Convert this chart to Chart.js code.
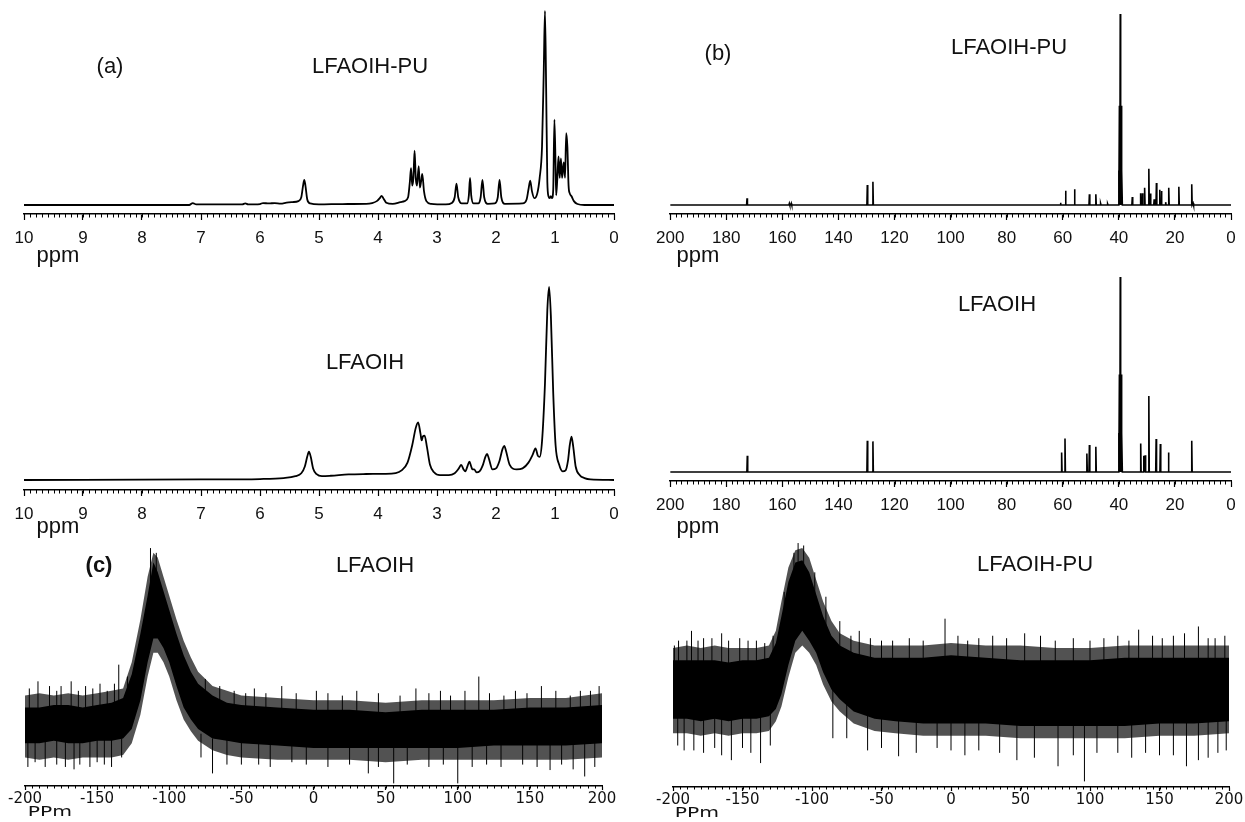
<!DOCTYPE html>
<html>
<head>
<meta charset="utf-8">
<script src="https://cdn.jsdelivr.net/npm/chart.js@4.4.1/dist/chart.umd.min.js"></script>
<style>
  html, body { margin: 0; padding: 0; background: #fff; }
  body { position: relative; width: 1245px; height: 820px; font-family: 'Liberation Sans', Arial, sans-serif; }
  .panel { position: absolute; }
  .lbl { position: absolute; transform: translate(-50%, -50%); white-space: nowrap; color: #111; line-height: 1; font-size: 22px; z-index: 2; }
  .ppm { font-size: 22px; }
  .ppm29 { font-family: 'DejaVu Sans', sans-serif; font-size: 14px; transform: translate(-50%, -50%) scaleX(1.45); }
</style>
</head>
<body>
<div class="panel" style="left:4px;top:0px;"><canvas id="h1pu" width="630" height="248"></canvas></div>
<div class="panel" style="left:4px;top:276px;"><canvas id="h1" width="630" height="248"></canvas></div>
<div class="panel" style="left:648px;top:0px;"><canvas id="c13pu" width="597" height="248"></canvas></div>
<div class="panel" style="left:648px;top:266px;"><canvas id="c13" width="597" height="249"></canvas></div>
<div class="panel" style="left:0px;top:536px;"><canvas id="si" width="630" height="276"></canvas></div>
<div class="panel" style="left:645px;top:531px;"><canvas id="sipu" width="600" height="282"></canvas></div>

<div class="lbl" style="left:110px;top:66px;">(a)</div>
<div class="lbl" style="left:370px;top:66px;">LFAOIH-PU</div>
<div class="lbl ppm" style="left:58px;top:255px;">ppm</div>
<div class="lbl" style="left:365px;top:362px;">LFAOIH</div>
<div class="lbl ppm" style="left:58px;top:526px;">ppm</div>

<div class="lbl" style="left:718px;top:53px;">(b)</div>
<div class="lbl" style="left:1009px;top:47px;">LFAOIH-PU</div>
<div class="lbl ppm" style="left:698px;top:255px;">ppm</div>
<div class="lbl" style="left:997px;top:304px;">LFAOIH</div>
<div class="lbl ppm" style="left:698px;top:526px;">ppm</div>

<div class="lbl" style="left:99px;top:565px;font-weight:bold;">(c)</div>
<div class="lbl" style="left:375px;top:565px;">LFAOIH</div>
<div class="lbl ppm29" style="left:50px;top:811px;">PPm</div>
<div class="lbl" style="left:1035px;top:564px;">LFAOIH-PU</div>
<div class="lbl ppm29" style="left:697px;top:812px;">PPm</div>

<script>
// 1H NMR traces, [ppm, relative intensity]
const h1PU = [
  [10, 0], [7.2, 0], [7.14, 1.0], [7.08, 0.3], [6.3, 0.3], [6.25, 0.8], [6.2, 0.3], [6.0, 0.5],
  [5.95, 1.0], [5.85, 0.8], [5.75, 1.0], [5.65, 0.7], [5.55, 1.2], [5.45, 1.5], [5.35, 2.0],
  [5.30, 4], [5.27, 10], [5.25, 13], [5.23, 10], [5.20, 3], [5.15, 0.8], [5.0, 0.3], [4.6, 0.5],
  [4.2, 0.6], [4.10, 1.0], [4.02, 2.0], [3.97, 3.5], [3.94, 4.7], [3.91, 3.5], [3.86, 1.2],
  [3.75, 0.6], [3.62, 1.5], [3.55, 2.0], [3.49, 4], [3.46, 12], [3.44, 19], [3.42, 10], [3.40, 14],
  [3.38, 28], [3.36, 14], [3.34, 10], [3.31, 20], [3.29, 9], [3.27, 12], [3.25, 16], [3.22, 7],
  [3.18, 2], [3.10, 0.6], [2.85, 0.3], [2.75, 1.0], [2.70, 4], [2.67, 11], [2.64, 4], [2.58, 0.8],
  [2.49, 0.8], [2.46, 5], [2.44, 14], [2.42, 5], [2.38, 0.8], [2.30, 0.8], [2.26, 4], [2.23, 13],
  [2.20, 4], [2.14, 0.6], [2.02, 0.8], [1.97, 4], [1.94, 13], [1.91, 4], [1.85, 0.6], [1.55, 0.8],
  [1.48, 3], [1.45, 8], [1.42, 12.5], [1.39, 7], [1.35, 3.5], [1.30, 6], [1.26, 14], [1.22, 30],
  [1.19, 70], [1.17, 100], [1.15, 60], [1.13, 12], [1.11, 4.5], [1.09, 3.5], [1.07, 4.5],
  [1.05, 3.5], [1.03, 8], [1.01, 44], [0.99, 20], [0.98, 5], [0.96, 14], [0.94, 25], [0.92, 14],
  [0.90, 24], [0.88, 14], [0.86, 20], [0.85, 22], [0.83, 14], [0.81, 37], [0.79, 30], [0.77, 10],
  [0.75, 6], [0.72, 4.5], [0.68, 2], [0.62, 0.5], [0.5, 0], [0, 0]
];
const h1 = [
  [10, 0], [7, 0.3], [6.0, 0.5], [5.6, 1.0], [5.4, 2.0], [5.3, 3.5], [5.24, 7], [5.20, 12],
  [5.17, 14.7], [5.14, 12], [5.10, 6], [5.04, 3], [4.95, 2], [4.8, 2.2], [4.5, 2.9], [4.2, 3.1],
  [3.9, 3.2], [3.7, 3.6], [3.6, 5], [3.5, 9], [3.42, 18], [3.36, 27], [3.32, 29.8], [3.28, 24],
  [3.26, 20.5], [3.24, 22.5], [3.21, 23], [3.17, 17], [3.12, 8], [3.05, 4], [2.95, 2.5], [2.8, 2.5],
  [2.70, 3.5], [2.63, 6], [2.59, 7.8], [2.55, 5.5], [2.52, 4.5], [2.48, 7.5], [2.45, 9.5],
  [2.42, 7], [2.40, 5.5], [2.37, 5.5], [2.33, 4], [2.28, 4.5], [2.22, 8], [2.18, 12], [2.15, 13.5],
  [2.12, 11], [2.06, 5.5], [2.0, 6], [1.94, 10], [1.89, 16], [1.86, 17.6], [1.83, 15], [1.77, 8],
  [1.65, 5.5], [1.55, 6], [1.45, 9], [1.38, 13], [1.33, 16.4], [1.29, 12.5], [1.26, 12], [1.22, 20],
  [1.17, 50], [1.13, 88], [1.10, 100], [1.07, 85], [1.03, 45], [0.99, 18], [0.93, 8], [0.87, 4.5],
  [0.82, 5], [0.78, 10], [0.75, 18], [0.72, 22.5], [0.69, 17], [0.65, 7], [0.58, 2.5], [0.5, 1],
  [0.4, 0.3], [0, 0]
];

// 13C peak lists, [ppm, relative height]
const c13PU = [
  [172.6, 3.5], [157.5, 0.8], [156.8, 0.8], [129.7, 10.5], [127.7, 12.2], [60.8, 1.2], [59.0, 7.5],
  [55.8, 8.2], [50.5, 5.6], [48.2, 5.6], [46.5, 0.8], [44, 0.6], [40.1, 18], [39.8, 52], [39.5, 100],
  [39.2, 52], [38.9, 18], [35.2, 4.2], [32.3, 6.2], [31.6, 6.2], [30.8, 9], [29.3, 19], [28.7, 6],
  [27.4, 3], [26.6, 11.5], [25.4, 8], [24.8, 7.3], [23.3, 1.5], [22.2, 9], [18.6, 9.5], [14.0, 10.8],
  [13.5, 1.0]
];
const c13 = [
  [172.5, 8.3], [129.7, 16], [127.7, 15.7], [60.4, 10], [59.2, 17.2], [51.4, 9.5], [50.5, 13.8],
  [48.2, 13], [40.1, 20], [39.8, 50], [39.5, 100], [39.2, 50], [38.9, 20], [32.2, 14.6], [31.1, 8.3],
  [30.6, 8.6], [29.3, 39], [26.7, 16.9], [25.2, 14.3], [22.3, 10], [14.0, 16]
];

// 29Si noise band, [ppm, outer top, core top, core bottom, outer bottom]
const si29 = [
  [-200, 38, 33, 18, 12], [-190, 39, 33, 18, 11], [-180, 38, 34, 19, 12], [-170, 39, 34, 18, 11],
  [-160, 38, 33, 18, 12], [-150, 39, 34, 19, 12], [-140, 40, 35, 19, 12], [-132, 41, 37, 20, 13],
  [-126, 52, 47, 24, 18], [-120, 70, 64, 36, 30], [-115, 88, 80, 52, 46], [-111, 98, 94, 62, 56],
  [-108, 96, 90, 62, 56], [-104, 88, 82, 58, 52], [-100, 80, 74, 52, 46], [-95, 70, 64, 42, 36],
  [-90, 61, 55, 33, 28], [-85, 54, 48, 28, 23], [-80, 48, 43, 24, 19], [-70, 42, 38, 20, 15],
  [-60, 40, 35, 19, 13], [-50, 38, 34, 18, 12], [-25, 37, 33, 17, 11], [0, 36, 32, 16, 11],
  [25, 36, 32, 16, 11], [50, 35, 31, 16, 10], [75, 36, 32, 16, 11], [100, 36, 32, 16, 11],
  [125, 36, 32, 17, 11], [150, 37, 33, 17, 11], [175, 37, 33, 17, 11], [200, 39, 34, 18, 12]
];
const si29PU = [
  [-200, 57, 52, 28, 22], [-190, 58, 52, 28, 22], [-180, 57, 52, 27, 21], [-170, 58, 52, 28, 22],
  [-160, 57, 51, 27, 21], [-150, 57, 52, 28, 22], [-140, 57, 52, 28, 22], [-131, 58, 53, 29, 23],
  [-126, 64, 59, 32, 27], [-122, 76, 70, 38, 33], [-117, 90, 84, 50, 45], [-112, 97, 92, 60, 55],
  [-107, 98, 93, 64, 58], [-102, 94, 88, 60, 55], [-97, 85, 79, 55, 50], [-92, 76, 70, 47, 42],
  [-86, 68, 62, 40, 35], [-80, 63, 58, 36, 31], [-70, 60, 55, 31, 26], [-55, 58, 53, 28, 23],
  [-40, 58, 53, 27, 22], [-20, 58, 53, 26, 21], [0, 59, 54, 26, 21], [25, 58, 53, 26, 21],
  [50, 58, 52, 25, 20], [75, 57, 52, 25, 20], [100, 57, 52, 25, 20], [125, 58, 53, 25, 20],
  [150, 58, 53, 26, 21], [175, 58, 53, 26, 21], [200, 58, 53, 27, 22]
];
// single noise spikes, [ppm, low, high]
const si29Spikes = [
  [-197, 30, 41], [-191, 30, 44], [-183, 30, 42], [-178, 30, 40], [-175, 30, 42], [-168, 30, 44],
  [-163, 30, 40], [-158, 30, 42], [-153, 30, 41], [-148, 30, 43], [-143, 30, 40], [-138, 30, 43],
  [-135, 30, 51], [-129, 35, 46], [-113, 80, 100], [-109, 80, 98], [-75, 30, 45], [-65, 28, 42],
  [-55, 28, 40], [-47, 28, 39], [-41, 28, 41], [-33, 28, 39], [-22, 28, 42], [-12, 28, 39],
  [2, 28, 40], [10, 28, 39], [20, 28, 38], [30, 28, 40], [45, 28, 39], [60, 28, 38], [71, 28, 41],
  [80, 28, 39], [88, 28, 40], [95, 28, 38], [105, 28, 40], [114.6, 28, 46], [122, 28, 39],
  [132, 28, 38], [140, 28, 40], [148, 28, 39], [158, 28, 42], [168, 28, 40], [178, 28, 38],
  [185, 28, 40], [192, 28, 40], [198, 28, 42],
  [-198, 8, 20], [-193, 10, 20], [-186, 8, 20], [-178, 9, 20], [-172, 8, 20], [-166, 7, 20],
  [-162, 9, 20], [-155, 8, 20], [-150, 10, 20], [-145, 9, 20], [-140, 8, 20], [-133, 12, 20],
  [-78, 12, 22], [-70, 5.3, 20], [-60, 9, 20], [-50, 9, 20], [-38, 9, 20], [-30, 8, 20],
  [-15, 10, 20], [-5, 9, 20], [10, 8, 20], [25, 9, 20], [38, 5.3, 20], [45, 8, 20], [55.6, 1.1, 20],
  [65, 9, 20], [80, 8, 20], [90, 9, 20], [100, 1.1, 20], [110, 8, 20], [120, 9, 20], [130, 8, 20],
  [145, 9, 20], [155, 8, 20], [164, 6.7, 20], [172, 9, 20], [180, 7, 20], [188, 4, 20], [195, 8, 20]
];
const si29PUSpikes = [
  [-199, 40, 58], [-196, 40, 60], [-190, 40, 60], [-186.7, 40, 64], [-182, 40, 60], [-178, 40, 61],
  [-172, 40, 61], [-165, 40, 63], [-160, 40, 60], [-152, 40, 61], [-146, 40, 60], [-140, 40, 60],
  [-134, 40, 59], [-128, 45, 62], [-120, 60, 80], [-113, 65, 96], [-110, 70, 100], [-106, 70, 99],
  [-98, 60, 88], [-90, 50, 78], [-80, 45, 68], [-72, 40, 62], [-66, 40, 64], [-58, 40, 61],
  [-50, 40, 60], [-42, 40, 60], [-30, 40, 61], [-20, 40, 60], [-4.3, 40, 69], [5, 40, 62],
  [12, 40, 60], [20, 40, 61], [30, 40, 62], [40, 40, 61], [53, 40, 63], [64.4, 40, 62], [75, 40, 60],
  [88, 40, 61], [100, 40, 60], [110, 40, 61], [120, 40, 62], [128, 40, 60], [135, 40, 64.5],
  [145, 40, 62], [152, 40, 61], [160, 40, 62], [168, 40, 63], [178, 40, 65.8], [185, 40, 61],
  [190, 40, 61], [197, 40, 62],
  [-196.6, 17, 35], [-192, 15, 35], [-185, 15, 35], [-178, 14, 35], [-170, 16, 35], [-165, 13, 35],
  [-158, 11, 35], [-150, 16, 35], [-144, 14, 35], [-137, 9.8, 35], [-130, 17, 35], [-85, 20, 40],
  [-75, 20, 40], [-60, 15, 35], [-50, 16, 35], [-37.7, 12.6, 35], [-25, 14, 35], [-10, 16, 35],
  [0, 15, 35], [10, 13, 35], [20, 15, 35], [35, 14, 35], [47.4, 11, 35], [60, 12, 35], [77, 8.5, 35],
  [88, 13, 35], [96, 2.3, 35], [105, 14, 35], [120, 14, 35], [130, 12, 35], [140, 14, 35],
  [150, 13, 35], [160, 13, 35], [169.4, 8.5, 35], [178, 11, 35], [185, 12, 35], [192, 14, 35],
  [198, 15, 35]
];

// axis ranges: [min, max, label step, minor step]
const h1Axis = [0, 10, 1, 0.1];
const c13Axis = [0, 200, 20, 2];
const si29Axis = [-200, 200, 50, 5];

// short unlabelled ticks between the labelled ones
const minorTicks = {
  id: 'minorTicks',
  afterDraw(chart, args, opts) {
    const s = chart.scales.x;
    const ctx = chart.ctx;
    const n = Math.round((s.max - s.min) / opts.step);
    ctx.save();
    ctx.strokeStyle = '#000';
    ctx.lineWidth = 1;
    ctx.beginPath();
    for (let i = 0; i <= n; i++) {
      const px = Math.round(s.getPixelForValue(s.min + i * opts.step)) + 0.5;
      ctx.moveTo(px, s.top);
      ctx.lineTo(px, s.top + opts.length);
    }
    ctx.stroke();
    ctx.restore();
  }
};

function toPoints(rows, col = 1) {
  return rows.map(r => ({ x: r[0], y: r[col] }));
}

function sticks(peaks, from, to) {
  const pts = [{ x: from, y: 0 }];
  peaks.slice().sort((a, b) => b[0] - a[0]).forEach(([p, h]) => {
    pts.push({ x: p + 0.15, y: 0 }, { x: p, y: h }, { x: p - 0.15, y: 0 });
  });
  pts.push({ x: to, y: 0 });
  return pts;
}

function spikeLines(rows) {
  const pts = [];
  rows.slice().sort((a, b) => a[0] - b[0]).forEach(([p, lo, hi]) => {
    pts.push({ x: p, y: lo }, { x: p, y: hi }, { x: p, y: null });
  });
  return pts;
}

function lineSet(data, width, smooth) {
  return { data, borderColor: '#000', borderWidth: width, fill: false,
           cubicInterpolationMode: smooth ? 'monotone' : 'default', tension: 0 };
}

function bandSets(rows, spikes) {
  return [
    { data: spikeLines(spikes), borderColor: '#000', borderWidth: 1, fill: false, spanGaps: false },
    { data: toPoints(rows, 2), borderWidth: 0, fill: '+1', backgroundColor: '#000' },
    { data: toPoints(rows, 3), borderWidth: 0, fill: false },
    { data: toPoints(rows, 1), borderWidth: 0, fill: '+1', backgroundColor: 'rgba(0,0,0,0.68)' },
    { data: toPoints(rows, 4), borderWidth: 0, fill: false }
  ];
}

function makeChart(id, datasets, cfg) {
  const [min, max, step, minor] = cfg.axis;
  return new Chart(document.getElementById(id), {
    type: 'line',
    data: { datasets },
    options: {
      responsive: false,
      animation: false,
      events: [],
      layout: { padding: { left: cfg.padL, right: cfg.padR, top: 4, bottom: 0 } },
      elements: { point: { radius: 0 } },
      plugins: {
        legend: { display: false },
        tooltip: { enabled: false },
        minorTicks: { step: minor, length: cfg.minorLen }
      },
      scales: {
        x: {
          type: 'linear', min, max, reverse: cfg.reverse,
          afterFit: s => { s.height = cfg.axisH; },
          border: { display: true, color: '#000', width: 1.6 },
          grid: { display: true, drawOnChartArea: false, drawTicks: true,
                  tickLength: cfg.majorLen, tickColor: '#000', tickWidth: 1.2 },
          ticks: { stepSize: step, color: '#111', padding: cfg.pad, maxRotation: 0,
                   autoSkip: false, font: cfg.font }
        },
        y: { display: false, min: cfg.y[0], max: cfg.y[1] }
      }
    },
    plugins: [minorTicks]
  });
}

const arial = { family: "'Liberation Sans', Arial, sans-serif", size: 17 };
const wide = { family: "'DejaVu Sans', sans-serif", size: 15 };

makeChart('h1pu', [lineSet(toPoints(h1PU), 1.8, true)],
  { axis: h1Axis, reverse: true, padL: 20, padR: 20, axisH: 34, majorLen: 6, minorLen: 3.5,
    pad: 8, font: arial, y: [-4.64, 103.6] });
makeChart('h1', [lineSet(toPoints(h1), 1.8, true)],
  { axis: h1Axis, reverse: true, padL: 20, padR: 20, axisH: 34, majorLen: 6, minorLen: 3.5,
    pad: 8, font: arial, y: [-5.18, 103.6] });
makeChart('c13pu', [lineSet(sticks(c13PU, 200, 0), 1.6, false)],
  { axis: c13Axis, reverse: true, padL: 20, padR: 14, axisH: 34, majorLen: 6, minorLen: 3.5,
    pad: 8, font: arial, y: [-4.71, 105.2] });
makeChart('c13', [lineSet(sticks(c13, 200, 0), 1.6, false)],
  { axis: c13Axis, reverse: true, padL: 20, padR: 14, axisH: 34, majorLen: 6, minorLen: 3.5,
    pad: 8, font: arial, y: [-4.62, 103.6] });
makeChart('si', bandSets(si29, si29Spikes),
  { axis: si29Axis, reverse: false, padL: 25, padR: 28, axisH: 26, majorLen: 4, minorLen: 2.5,
    pad: 0, font: wide, y: [0, 103.4] });
makeChart('sipu', bandSets(si29PU, si29PUSpikes),
  { axis: si29Axis, reverse: false, padL: 28, padR: 16, axisH: 26, majorLen: 4, minorLen: 2.5,
    pad: 0, font: wide, y: [0, 103.3] });
</script>
</body>
</html>
